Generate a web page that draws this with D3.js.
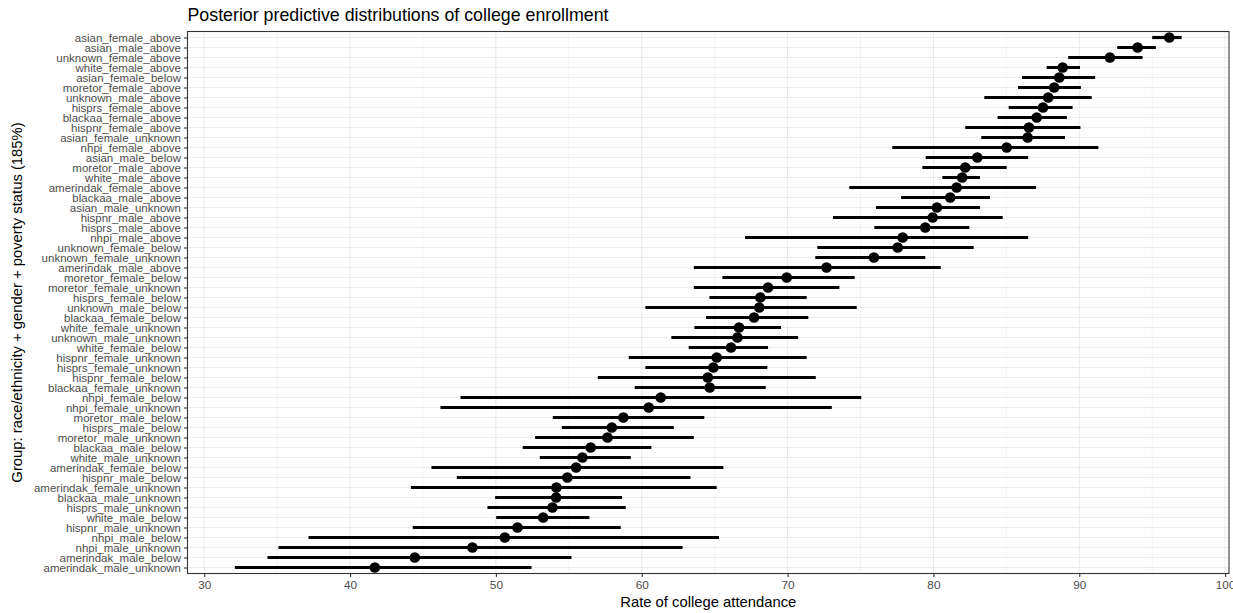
<!DOCTYPE html>
<html>
<head>
<meta charset="utf-8">
<script src="https://cdn.jsdelivr.net/npm/d3@7"></script>
<style>
  html, body { margin: 0; padding: 0; background: #fff; }
  svg { display: block; font-family: "Liberation Sans", Arial, Helvetica, sans-serif; }
</style>
</head>
<body>
<svg id="chart" width="1233" height="613"></svg>
<script>
// Groups, ordered from highest to lowest posterior median
const groups = [
  "asian_female_above", "asian_male_above", "unknown_female_above", "white_female_above",
  "asian_female_below", "moretor_female_above", "unknown_male_above", "hisprs_female_above",
  "blackaa_female_above", "hispnr_female_above", "asian_female_unknown", "nhpi_female_above",
  "asian_male_below", "moretor_male_above", "white_male_above", "amerindak_female_above",
  "blackaa_male_above", "asian_male_unknown", "hispnr_male_above", "hisprs_male_above",
  "nhpi_male_above", "unknown_female_below", "unknown_female_unknown", "amerindak_male_above",
  "moretor_female_below", "moretor_female_unknown", "hisprs_female_below", "unknown_male_below",
  "blackaa_female_below", "white_female_unknown", "unknown_male_unknown", "white_female_below",
  "hispnr_female_unknown", "hisprs_female_unknown", "hispnr_female_below", "blackaa_female_unknown",
  "nhpi_female_below", "nhpi_female_unknown", "moretor_male_below", "hisprs_male_below",
  "moretor_male_unknown", "blackaa_male_below", "white_male_unknown", "amerindak_female_below",
  "hispnr_male_below", "amerindak_female_unknown", "blackaa_male_unknown", "hisprs_male_unknown",
  "white_male_below", "hispnr_male_unknown", "nhpi_male_below", "nhpi_male_unknown",
  "amerindak_male_below", "amerindak_male_unknown"
];

// Posterior medians (%)
const median = [
  96.17, 94.00, 92.10, 88.86, 88.63, 88.28, 87.87, 87.51, 87.08, 86.55,
  86.46, 85.02, 83.01, 82.18, 81.97, 81.59, 81.15, 80.24, 79.95, 79.44,
  77.89, 77.55, 75.92, 72.67, 69.94, 68.66, 68.13, 68.06, 67.70, 66.67,
  66.56, 66.12, 65.14, 64.91, 64.53, 64.66, 61.30, 60.48, 58.74, 57.95,
  57.65, 56.50, 55.93, 55.50, 54.90, 54.15, 54.13, 53.88, 53.24, 51.48,
  50.61, 48.39, 44.44, 41.70
];

// Lower interval bound (%)
const lower = [
  95.00, 92.60, 89.24, 87.76, 86.07, 85.80, 83.49, 85.16, 84.40, 82.18,
  83.28, 77.18, 79.47, 79.24, 80.61, 74.23, 77.78, 76.06, 73.11, 75.95,
  67.08, 72.04, 71.90, 63.57, 65.53, 63.57, 64.64, 60.25, 64.41, 63.61,
  62.03, 63.22, 59.11, 60.25, 56.99, 59.52, 47.57, 46.20, 53.90, 54.52,
  52.69, 51.84, 53.01, 45.58, 47.32, 44.17, 49.95, 49.42, 50.02, 44.30,
  37.15, 35.09, 34.34, 32.10
];

// Upper interval bound (%)
const upper = [
  97.02, 95.25, 94.34, 90.05, 91.09, 90.11, 90.85, 89.54, 89.15, 90.08,
  89.02, 91.31, 86.50, 85.02, 83.19, 87.03, 83.88, 83.19, 84.75, 82.46,
  86.50, 82.76, 79.44, 80.50, 74.60, 73.55, 71.31, 74.74, 71.42, 69.55,
  70.72, 68.66, 71.31, 68.61, 71.93, 68.50, 75.05, 73.03, 64.29, 62.20,
  63.57, 60.66, 59.25, 65.60, 63.34, 65.14, 58.65, 58.90, 56.41, 58.56,
  65.30, 62.80, 55.18, 52.44
];

const xTicks = [30, 40, 50, 60, 70, 80, 90, 100];
const xMinorTicks = [35, 45, 55, 65, 75, 85, 95];

const rows = groups.map((g, i) => ({ group: g, median: median[i], lower: lower[i], upper: upper[i] }));

const svg = d3.select("#chart");
const panel = { left: 187.5, right: 1229, top: 31.5, bottom: 573.5 };

// x limits: data range padded by 5% on each side
const lo = d3.min(lower), hi = d3.max(upper);
const pad = (hi - lo) * 0.05;
const x = d3.scaleLinear().domain([lo - pad, hi + pad]).range([panel.left, panel.right]);
const y = d3.scalePoint().domain(groups).range([panel.top, panel.bottom]).padding(0.6);

// Panel background
svg.append("rect")
  .attr("x", panel.left).attr("y", panel.top)
  .attr("width", panel.right - panel.left).attr("height", panel.bottom - panel.top)
  .attr("fill", "#ffffff");

const grid = svg.append("g");
grid.selectAll("line.minor").data(xMinorTicks).join("line")
  .attr("class", "minor")
  .attr("x1", d => x(d)).attr("x2", d => x(d))
  .attr("y1", panel.top).attr("y2", panel.bottom)
  .attr("stroke", "#EBEBEB").attr("stroke-width", 0.55);
grid.selectAll("line.majx").data(xTicks).join("line")
  .attr("class", "majx")
  .attr("x1", d => x(d)).attr("x2", d => x(d))
  .attr("y1", panel.top).attr("y2", panel.bottom)
  .attr("stroke", "#EBEBEB").attr("stroke-width", 1.1);
grid.selectAll("line.majy").data(groups).join("line")
  .attr("class", "majy")
  .attr("x1", panel.left).attr("x2", panel.right)
  .attr("y1", d => y(d)).attr("y2", d => y(d))
  .attr("stroke", "#EBEBEB").attr("stroke-width", 1.1);

// Interval segments and median points
const marks = svg.append("g");
marks.selectAll("line.ci").data(rows).join("line")
  .attr("class", "ci")
  .attr("x1", d => x(d.lower)).attr("x2", d => x(d.upper))
  .attr("y1", d => y(d.group)).attr("y2", d => y(d.group))
  .attr("stroke", "#000").attr("stroke-width", 3.2);
marks.selectAll("circle").data(rows).join("circle")
  .attr("cx", d => x(d.median)).attr("cy", d => y(d.group))
  .attr("r", 5.3).attr("fill", "#000");

// Panel border
svg.append("rect")
  .attr("x", panel.left).attr("y", panel.top)
  .attr("width", panel.right - panel.left).attr("height", panel.bottom - panel.top)
  .attr("fill", "none").attr("stroke", "#333333").attr("stroke-width", 1.1);

// Axes
const xAxis = svg.append("g")
  .attr("transform", `translate(0,${panel.bottom})`)
  .call(d3.axisBottom(x).tickValues(xTicks).tickSize(3.5).tickPadding(4).tickFormat(d3.format("d")));
const yAxis = svg.append("g")
  .attr("transform", `translate(${panel.left},0)`)
  .call(d3.axisLeft(y).tickSize(3.5).tickPadding(3));
[xAxis, yAxis].forEach(ax => {
  ax.select(".domain").remove();
  ax.selectAll(".tick line").attr("stroke", "#333333").attr("stroke-width", 1.1);
  ax.selectAll(".tick text").attr("fill", "#4D4D4D")
    .style("font-family", "'Liberation Sans', Arial, sans-serif");
});
xAxis.selectAll(".tick text").style("font-size", "11.8px");
yAxis.selectAll(".tick text").style("font-size", "11.5px");

// Titles
svg.append("text")
  .attr("x", panel.left).attr("y", 20.5)
  .attr("fill", "#000").style("font-size", "17.8px")
  .text("Posterior predictive distributions of college enrollment");

svg.append("text")
  .attr("x", (panel.left + panel.right) / 2).attr("y", 607)
  .attr("text-anchor", "middle").attr("fill", "#000").style("font-size", "14.8px")
  .text("Rate of college attendance");

svg.append("text")
  .attr("transform", `translate(22,${(panel.top + panel.bottom) / 2}) rotate(-90)`)
  .attr("text-anchor", "middle").attr("fill", "#000").style("font-size", "14.8px")
  .text("Group: race/ethnicity + gender + poverty status (185%)");
</script>
</body>
</html>
